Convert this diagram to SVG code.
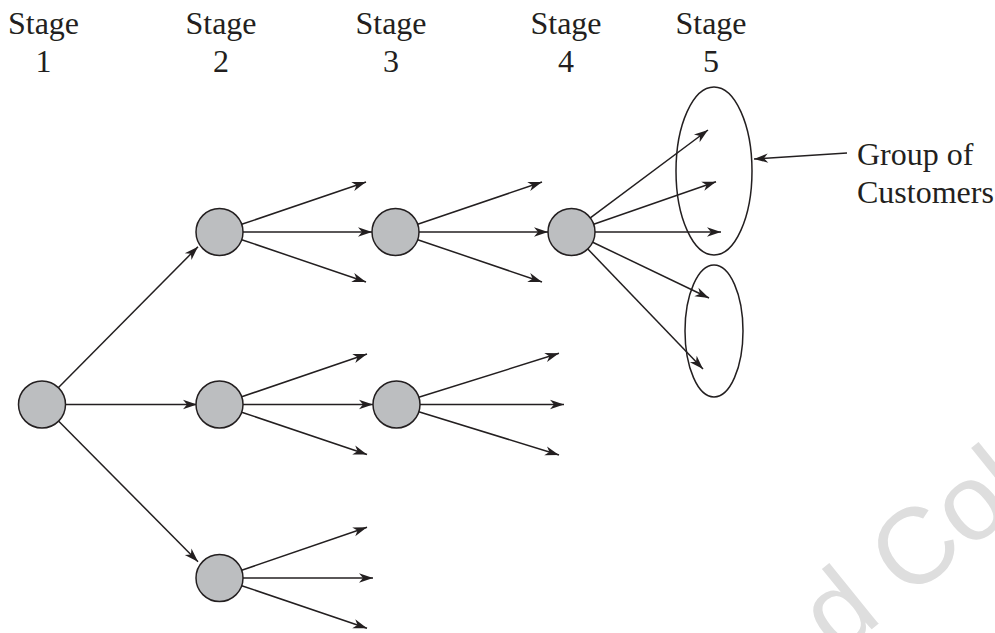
<svg xmlns="http://www.w3.org/2000/svg" width="995" height="633" viewBox="0 0 995 633">
<style>
.lbl{font-family:"Liberation Serif","Times New Roman",serif;font-size:32px;fill:#231f20}
.c{text-anchor:middle}
.node{fill:#bcbec0;stroke:#231f20;stroke-width:1.5}
.grp{fill:none;stroke:#231f20;stroke-width:1.5}
.ln{fill:none;stroke:#231f20;stroke-width:1.5;marker-end:url(#ah)}
.wm{font-family:"Liberation Sans",Arial,sans-serif;font-size:108px;fill:#dedede}
</style>
<defs>
<marker id="ah" viewBox="-15 -6 16 12" refX="0" refY="0" markerWidth="16" markerHeight="12" orient="auto" markerUnits="userSpaceOnUse">
<path d="M0,0 L-14,-4.7 L-10,0 L-14,4.7 Z" fill="#231f20"/>
</marker>
</defs>
<rect width="995" height="633" fill="#ffffff"/>
<g id="watermark">
<text class="wm" transform="translate(913,547) rotate(-39)" x="-128" y="38">d Col</text>
</g>
<g id="labels">
<text class="lbl c" x="43.5" y="34">Stage</text><text class="lbl c" x="43.5" y="72">1</text>
<text class="lbl c" x="221" y="34">Stage</text><text class="lbl c" x="221" y="72">2</text>
<text class="lbl c" x="391" y="34">Stage</text><text class="lbl c" x="391" y="72">3</text>
<text class="lbl c" x="566" y="34">Stage</text><text class="lbl c" x="566" y="72">4</text>
<text class="lbl c" x="711" y="34">Stage</text><text class="lbl c" x="711" y="72">5</text>
</g>
<g id="group-label">
<text class="lbl" x="857" y="165">Group of</text>
<text class="lbl" x="857" y="203">Customers</text>
</g>
<g id="groups">
<ellipse id="group1" class="grp" cx="714" cy="171" rx="38" ry="84"/>
<ellipse id="group2" class="grp" cx="714" cy="331" rx="29" ry="66"/>
</g>
<g id="connectors">
<line class="ln" x1="58.5" y1="387.5" x2="198" y2="246.7"/>
<line class="ln" x1="65.5" y1="404.5" x2="197" y2="404.5"/>
<line class="ln" x1="58.5" y1="421" x2="198" y2="561.7"/>
<line class="ln" x1="241.7" y1="224.3" x2="366" y2="182"/>
<line class="ln" x1="243" y1="232" x2="372" y2="232"/>
<line class="ln" x1="241.7" y1="239.7" x2="366" y2="282"/>
<line class="ln" x1="241.7" y1="396.8" x2="367" y2="354"/>
<line class="ln" x1="243" y1="404.5" x2="373" y2="404.5"/>
<line class="ln" x1="241.7" y1="412.2" x2="367" y2="454.5"/>
<line class="ln" x1="241.7" y1="570.3" x2="367" y2="527.3"/>
<line class="ln" x1="243" y1="578" x2="373" y2="578"/>
<line class="ln" x1="241.7" y1="585.7" x2="367" y2="628.3"/>
<line class="ln" x1="417.7" y1="224.3" x2="542" y2="182"/>
<line class="ln" x1="419" y1="232" x2="548" y2="232"/>
<line class="ln" x1="417.7" y1="239.7" x2="542" y2="282"/>
<line class="ln" x1="418.7" y1="397.3" x2="559" y2="353.3"/>
<line class="ln" x1="420" y1="404.5" x2="564" y2="404.5"/>
<line class="ln" x1="418.7" y1="411.7" x2="559" y2="455"/>
<line class="ln" x1="590.3" y1="217.9" x2="708" y2="130"/>
<line class="ln" x1="593.7" y1="224.3" x2="716" y2="181.7"/>
<line class="ln" x1="595" y1="232" x2="721" y2="232"/>
<line class="ln" x1="592.7" y1="242.2" x2="709" y2="298"/>
<line class="ln" x1="587.8" y1="249" x2="703" y2="369"/>
<line class="ln" x1="847" y1="153" x2="754" y2="159"/>
</g>
<g id="nodes">
<circle id="n1" class="node" cx="42" cy="404.5" r="23.5"/>
<circle id="n2a" class="node" cx="219.5" cy="232" r="23.5"/>
<circle id="n2b" class="node" cx="219.5" cy="404.5" r="23.5"/>
<circle id="n2c" class="node" cx="219.5" cy="578" r="23.5"/>
<circle id="n3a" class="node" cx="395.5" cy="232" r="23.5"/>
<circle id="n3b" class="node" cx="396.5" cy="404.5" r="23.5"/>
<circle id="n4a" class="node" cx="571.5" cy="232" r="23.5"/>
</g>
</svg>
